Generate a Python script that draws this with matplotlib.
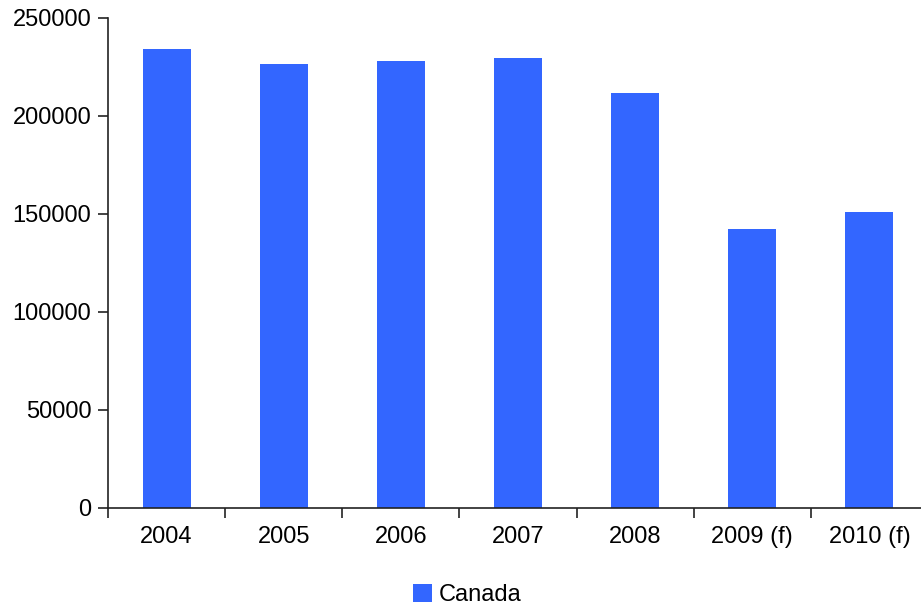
import matplotlib
matplotlib.use("Agg")
import matplotlib.pyplot as plt
from matplotlib.ticker import FuncFormatter

plt.rcParams['font.family'] = ['Liberation Sans', 'DejaVu Sans']

years = ['2004', '2005', '2006', '2007', '2008', '2009 (f)', '2010 (f)']
canada = [234200, 226500, 228000, 229500, 211700, 142100, 150800]
yticks = [0, 50000, 100000, 150000, 200000, 250000]

bar_color = '#3366FF'
axis_color = '#222222'

fig = plt.figure(figsize=(9.21, 6.06), dpi=100)
ax = fig.add_axes([108 / 921, 1 - 508 / 606, 820 / 921, 490 / 606])

x = list(range(len(years)))
ax.bar(x, canada, width=0.41, color=bar_color, label='Canada', zorder=2)

ax.set_xlim(-0.5, len(years) - 0.5)
ax.set_ylim(0, 250000)
ax.set_yticks(yticks)
ax.yaxis.set_major_formatter(FuncFormatter(lambda v, p: '%d' % v))
ax.set_xticks(x)
ax.set_xticklabels(years)
# category boundary ticks on the x axis
ax.set_xticks([i - 0.5 for i in range(len(years) + 1)], minor=True)
ax.tick_params(axis='x', which='major', length=0, pad=13, labelsize=17)
ax.tick_params(axis='x', which='minor', length=7, width=1.2, color=axis_color)
ax.tick_params(axis='y', length=7, width=1.2, color=axis_color, pad=5, labelsize=17)

for side in ['top', 'right']:
    ax.spines[side].set_visible(False)
for side in ['left', 'bottom']:
    ax.spines[side].set_color(axis_color)
    ax.spines[side].set_linewidth(1.2)

fig.legend(loc='center', bbox_to_anchor=(467 / 921, 1 - 595 / 606), frameon=False,
           fontsize=17, handlelength=0.8, handleheight=0.8, handletextpad=0.3)

fig.savefig('out.png', dpi=100)
